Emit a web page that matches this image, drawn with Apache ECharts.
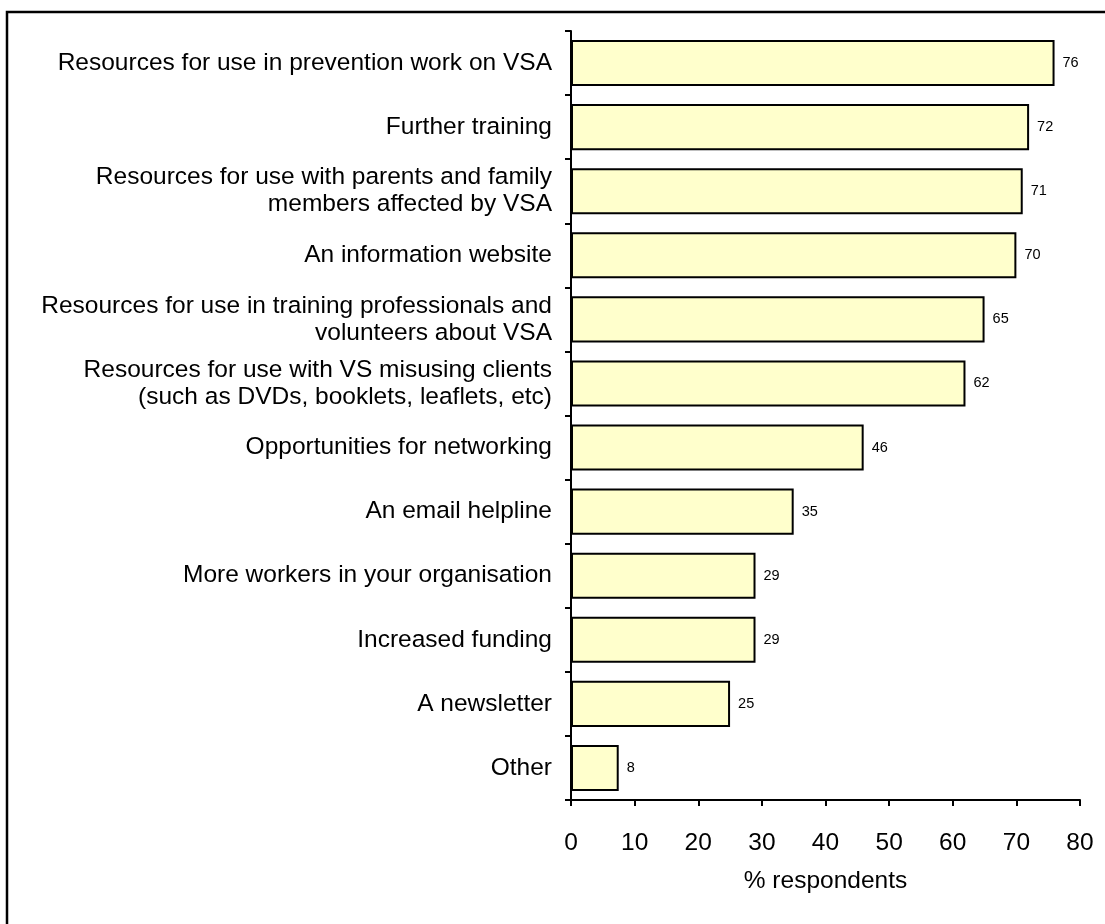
<!DOCTYPE html>
<html>
<head>
<meta charset="utf-8">
<script src="https://cdn.jsdelivr.net/npm/echarts@6/dist/echarts.min.js"></script>
<style>
html,body{margin:0;padding:0;background:#fff;}
#chart{width:1105px;height:924px;}
</style>
</head>
<body>
<div id="chart"></div>
<script>
const categories = [
  "Resources for use in prevention work on VSA",
  "Further training",
  "Resources for use with parents and family\nmembers affected by VSA",
  "An information website",
  "Resources for use in training professionals and\nvolunteers about VSA",
  "Resources for use with VS misusing clients\n(such as DVDs, booklets, leaflets, etc)",
  "Opportunities for networking",
  "An email helpline",
  "More workers in your organisation",
  "Increased funding",
  "A newsletter",
  "Other"
];
const values = [76, 72, 71, 70, 65, 62, 46, 35, 29, 29, 25, 7.5];
const xTicks = { min: 0, max: 80, interval: 10 };
const xAxisName = "% respondents";

const FONT = "'Liberation Sans', Arial, sans-serif";
const chart = echarts.init(document.getElementById('chart'), null, {renderer: 'canvas'});
chart.setOption({
  backgroundColor: '#ffffff',
  animation: false,
  graphic: [{
    type: 'rect',
    shape: {x: 7, y: 12, width: 1200, height: 1000},
    style: {fill: 'none', stroke: '#000', lineWidth: 2.5},
    silent: true
  }],
  grid: {left: 571, right: 25, top: 31, bottom: 124, containLabel: false},
  xAxis: {
    type: 'value',
    min: xTicks.min, max: xTicks.max, interval: xTicks.interval,
    name: xAxisName,
    nameLocation: 'middle',
    nameGap: 69,
    nameTextStyle: {fontFamily: FONT, fontSize: 24.5, color: '#000'},
    axisLine: {show: true, lineStyle: {color: '#000', width: 2}},
    axisTick: {show: true, length: 6, lineStyle: {color: '#000', width: 2}},
    axisLabel: {fontFamily: FONT, fontSize: 24.5, color: '#000', margin: 31},
    splitLine: {show: false}
  },
  yAxis: {
    type: 'category',
    data: categories,
    inverse: true,
    axisLine: {show: true, lineStyle: {color: '#000', width: 2}},
    axisTick: {show: true, length: 6, lineStyle: {color: '#000', width: 2}},
    axisLabel: {fontFamily: FONT, fontSize: 24.5, color: '#000', margin: 19, lineHeight: 27, align: 'right'},
    splitLine: {show: false}
  },
  series: [{
    type: 'bar',
    data: values,
    barCategoryGap: '28%',
    itemStyle: {color: '#FFFFCC', borderColor: '#000', borderWidth: 2},
    label: {
      show: true, position: 'right', distance: 8,
      fontFamily: FONT, fontSize: 14.5, color: '#000',
      formatter: p => Math.round(p.value)
    }
  }]
});
</script>
</body>
</html>
